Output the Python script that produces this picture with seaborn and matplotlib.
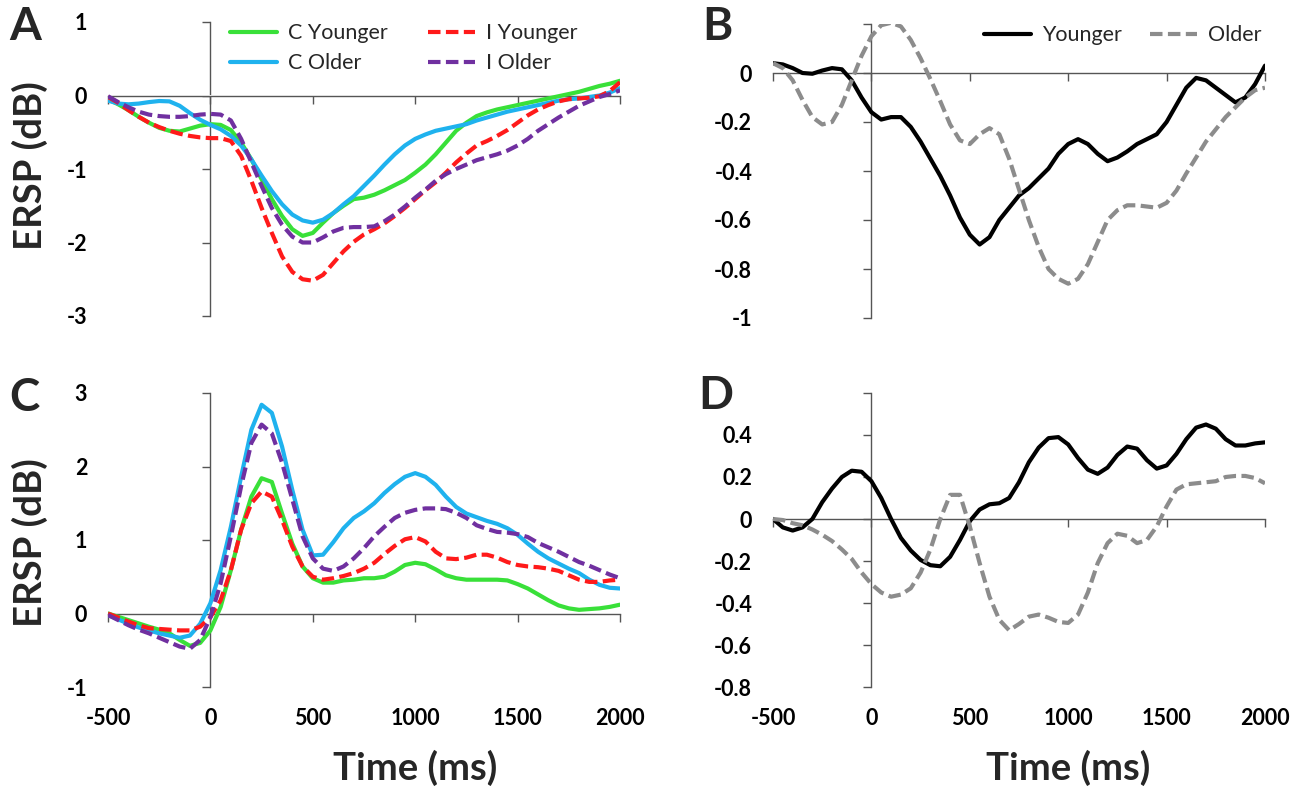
import matplotlib
matplotlib.use("Agg")
import matplotlib.pyplot as plt
import seaborn as sns

# ---------------- data ----------------
time_ms = list(range(-500, 2001, 50))
x_ticks = [-500, 0, 500, 1000, 1500, 2000]
x_tick_labels = ["-500", "0", "500", "1000", "1500", "2000"]

# Panel A
a_c_younger = [-0.05, -0.12, -0.2, -0.29, -0.37, -0.44, -0.48, -0.49, -0.45, -0.41, -0.39, -0.4, -0.47,
               -0.64, -0.87, -1.14, -1.41, -1.64, -1.82, -1.91, -1.87, -1.73, -1.6, -1.5, -1.41, -1.39,
               -1.35, -1.29, -1.22, -1.15, -1.05, -0.94, -0.8, -0.64, -0.48, -0.37, -0.28, -0.23, -0.19,
               -0.16, -0.13, -0.1, -0.07, -0.04, -0.01, 0.02, 0.05, 0.09, 0.13, 0.16, 0.2]
a_c_older = [-0.07, -0.11, -0.12, -0.11, -0.09, -0.075, -0.08, -0.14, -0.24, -0.33, -0.4, -0.46, -0.55,
             -0.68, -0.87, -1.09, -1.3, -1.48, -1.62, -1.7, -1.73, -1.69, -1.6, -1.48, -1.37, -1.23,
             -1.09, -0.94, -0.8, -0.68, -0.59, -0.53, -0.48, -0.45, -0.42, -0.39, -0.34, -0.3, -0.26,
             -0.22, -0.19, -0.16, -0.13, -0.1, -0.07, -0.05, -0.04, -0.02, 0.0, 0.04, 0.1]
a_i_younger = [-0.02, -0.1, -0.2, -0.29, -0.37, -0.43, -0.48, -0.52, -0.55, -0.57, -0.58, -0.58, -0.62,
               -0.82, -1.16, -1.53, -1.87, -2.19, -2.4, -2.5, -2.52, -2.44, -2.28, -2.12, -1.99, -1.89,
               -1.82, -1.74, -1.64, -1.53, -1.41, -1.29, -1.18, -1.05, -0.91, -0.79, -0.68, -0.62, -0.55,
               -0.47, -0.37, -0.27, -0.19, -0.13, -0.08, -0.05, -0.04, -0.03, -0.01, 0.06, 0.18]
a_i_older = [-0.01, -0.09, -0.16, -0.22, -0.26, -0.28, -0.29, -0.29, -0.28, -0.26, -0.25, -0.26, -0.34,
             -0.59, -0.91, -1.23, -1.53, -1.76, -1.92, -2.0, -2.0, -1.93, -1.85, -1.8, -1.79, -1.79,
             -1.78, -1.71, -1.62, -1.51, -1.39, -1.28, -1.16, -1.07, -1.0, -0.94, -0.88, -0.84, -0.8,
             -0.75, -0.68, -0.59, -0.48, -0.39, -0.3, -0.22, -0.14, -0.08, -0.02, 0.02, 0.07]

# Panel C
c_c_younger = [0.0, -0.045, -0.09, -0.135, -0.18, -0.22, -0.27, -0.36, -0.44, -0.4, -0.23, 0.09, 0.59,
               1.14, 1.59, 1.84, 1.79, 1.36, 0.95, 0.64, 0.48, 0.42, 0.42, 0.45, 0.46, 0.48,
               0.48, 0.5, 0.57, 0.66, 0.69, 0.67, 0.6, 0.52, 0.48, 0.46, 0.46, 0.46, 0.46,
               0.45, 0.4, 0.34, 0.26, 0.18, 0.11, 0.07, 0.05, 0.06, 0.07, 0.09, 0.12]
c_c_older = [-0.02, -0.08, -0.14, -0.19, -0.23, -0.27, -0.3, -0.33, -0.3, -0.14, 0.14, 0.59, 1.18,
             1.86, 2.5, 2.84, 2.73, 2.27, 1.68, 1.14, 0.79, 0.8, 0.97, 1.16, 1.3, 1.39,
             1.5, 1.64, 1.76, 1.86, 1.91, 1.86, 1.75, 1.59, 1.45, 1.36, 1.31, 1.26, 1.22,
             1.16, 1.07, 0.95, 0.84, 0.75, 0.68, 0.61, 0.55, 0.46, 0.39, 0.35, 0.34]
c_i_younger = [0.0, -0.055, -0.11, -0.16, -0.2, -0.21, -0.22, -0.23, -0.23, -0.18, -0.05, 0.18, 0.59,
               1.14, 1.5, 1.66, 1.59, 1.27, 0.91, 0.64, 0.5, 0.46, 0.48, 0.51, 0.55, 0.61,
               0.69, 0.81, 0.92, 1.01, 1.04, 0.98, 0.84, 0.75, 0.74, 0.76, 0.8, 0.8, 0.76,
               0.7, 0.66, 0.64, 0.63, 0.61, 0.58, 0.52, 0.46, 0.43, 0.43, 0.45, 0.46]
c_i_older = [-0.02, -0.09, -0.16, -0.22, -0.27, -0.33, -0.39, -0.45, -0.48, -0.36, -0.05, 0.41, 1.05,
             1.73, 2.32, 2.57, 2.45, 2.05, 1.55, 1.05, 0.75, 0.61, 0.58, 0.64, 0.75, 0.89,
             1.05, 1.18, 1.3, 1.37, 1.41, 1.43, 1.43, 1.42, 1.37, 1.3, 1.2, 1.15, 1.11,
             1.1, 1.08, 1.04, 0.96, 0.9, 0.84, 0.77, 0.7, 0.65, 0.59, 0.53, 0.48]

# Panel B
b_younger = [0.04, 0.035, 0.02, 0.0, -0.003, 0.01, 0.02, 0.015, -0.03, -0.1, -0.16, -0.19, -0.18,
             -0.18, -0.22, -0.28, -0.35, -0.42, -0.5, -0.59, -0.66, -0.7, -0.67, -0.6, -0.55, -0.5,
             -0.47, -0.43, -0.39, -0.33, -0.29, -0.27, -0.29, -0.33, -0.36, -0.345, -0.32, -0.29, -0.27,
             -0.25, -0.2, -0.13, -0.06, -0.02, -0.03, -0.06, -0.09, -0.12, -0.1, -0.045, 0.03]
b_older = [0.04, 0.02, -0.03, -0.11, -0.18, -0.21, -0.2, -0.13, -0.03, 0.07, 0.15, 0.195, 0.205,
           0.19, 0.135, 0.06, -0.025, -0.115, -0.21, -0.275, -0.29, -0.25, -0.225, -0.25, -0.35, -0.475,
           -0.6, -0.71, -0.8, -0.84, -0.86, -0.84, -0.78, -0.69, -0.6, -0.56, -0.54, -0.54, -0.545,
           -0.55, -0.53, -0.48, -0.41, -0.345, -0.28, -0.23, -0.18, -0.14, -0.1, -0.07, -0.06]

# Panel D
d_younger = [0.0, -0.04, -0.055, -0.04, 0.0, 0.08, 0.145, 0.2, 0.23, 0.225, 0.18, 0.1, 0.0,
             -0.09, -0.15, -0.195, -0.22, -0.225, -0.18, -0.1, -0.01, 0.045, 0.07, 0.075, 0.1, 0.175,
             0.27, 0.34, 0.385, 0.39, 0.355, 0.29, 0.235, 0.215, 0.245, 0.305, 0.345, 0.335, 0.28,
             0.24, 0.255, 0.31, 0.38, 0.435, 0.45, 0.43, 0.38, 0.35, 0.35, 0.36, 0.365]
d_older = [0.0, -0.005, -0.02, -0.03, -0.05, -0.075, -0.105, -0.145, -0.19, -0.255, -0.31, -0.35, -0.37,
           -0.36, -0.33, -0.255, -0.145, 0.0, 0.115, 0.115, -0.035, -0.21, -0.37, -0.48, -0.53, -0.5,
           -0.465, -0.455, -0.47, -0.49, -0.495, -0.455, -0.35, -0.21, -0.115, -0.07, -0.08, -0.115, -0.1,
           -0.035, 0.06, 0.14, 0.165, 0.17, 0.175, 0.18, 0.2, 0.205, 0.205, 0.195, 0.17]

labels_4 = ["C Younger", "C Older", "I Younger", "I Older"]
labels_2 = ["Younger", "Older"]

a_yticks = [-3, -2, -1, 0, 1]
a_ylabels = ["-3", "-2", "-1", "0", "1"]
c_yticks = [-1, 0, 1, 2, 3]
c_ylabels = ["-1", "0", "1", "2", "3"]
b_yticks = [-1, -0.8, -0.6, -0.4, -0.2, 0, 0.2]
b_ylabels = ["-1", "-0.8", "-0.6", "-0.4", "-0.2", "0", ""]
d_yticks = [-0.8, -0.6, -0.4, -0.2, 0, 0.2, 0.4, 0.6]
d_ylabels = ["-0.8", "-0.6", "-0.4", "-0.2", "0", "0.2", "0.4", ""]

# ---------------- style ----------------
sns.set_theme(style="white")
plt.rcParams["font.family"] = ["Lato", "DejaVu Sans"]
plt.rcParams["axes.unicode_minus"] = False

GREEN = "#39e039"
BLUE = "#1fb2ee"
RED = "#ff1a1a"
PURPLE = "#7030a0"
BLACK = "#000000"
GRAY = "#8c8c8c"
AXIS = "#555555"
DASH = (0, (3, 1.3))
LW = 3.0
TICK_FS = 15.5

W, H = 1305, 789
fig = plt.figure(figsize=(W / 100, H / 100), dpi=100)


def px_axes(l, t, r, b):
    return fig.add_axes([l / W, 1 - b / H, (r - l) / W, (b - t) / H])


axA = px_axes(108, 22, 620, 316)
axB = px_axes(773, 24, 1265, 318)
axC = px_axes(108, 393, 620, 687)
axD = px_axes(773, 393, 1265, 687)


def style(ax, ylo, yhi, yticks, ylabels, show_x):
    ax.set_xlim(-500, 2000)
    ax.set_ylim(ylo, yhi)
    for s in ax.spines.values():
        s.set_visible(False)
    ax.set_yticks(yticks, labels=ylabels)
    ax.set_xticks(x_ticks, labels=x_tick_labels if show_x else [""] * len(x_ticks))
    ax.tick_params(axis="y", length=0, pad=15, labelsize=TICK_FS, colors="black")
    ax.tick_params(axis="x", length=0, pad=15, labelsize=TICK_FS, colors="black")
    for lab in ax.get_xticklabels() + ax.get_yticklabels():
        lab.set_fontweight("bold")
    ax.grid(False)
    sy = ax.secondary_yaxis(500 / 2500)
    sy.set_alignment("left")
    sy.set_yticks(yticks, labels=[""] * len(yticks))
    sy.tick_params(length=6, width=1, color=AXIS, direction="out")
    sy.spines["left"].set_color(AXIS)
    sy.spines["left"].set_linewidth(1)
    sx = ax.secondary_xaxis((0 - ylo) / (yhi - ylo))
    sx.set_alignment("bottom")
    sx.set_xticks(x_ticks, labels=[""] * len(x_ticks))
    sx.tick_params(length=6, width=1, color=AXIS, direction="out")
    sx.spines["bottom"].set_color(AXIS)
    sx.spines["bottom"].set_linewidth(1)


def draw(ax, y, color, label, dashed):
    sns.lineplot(x=time_ms, y=y, ax=ax, color=color, linewidth=LW, label=label,
                 estimator=None, sort=False, legend=False,
                 linestyle=DASH if dashed else "-")
    ln = ax.lines[-1]
    ln.set_solid_capstyle("round")
    ln.set_solid_joinstyle("round")
    ln.set_dash_joinstyle("round")
    return ln


# Panel A
hA = [draw(axA, a_c_younger, GREEN, labels_4[0], False),
      draw(axA, a_c_older, BLUE, labels_4[1], False),
      draw(axA, a_i_younger, RED, labels_4[2], True),
      draw(axA, a_i_older, PURPLE, labels_4[3], True)]
style(axA, -3, 1, a_yticks, a_ylabels, False)
axA.legend(hA, labels_4, ncol=2, frameon=False, loc="upper left",
           bbox_to_anchor=(0.238, 0.995), borderpad=0, borderaxespad=0,
           handlelength=2.2, handletextpad=0.5, columnspacing=1.85,
           labelspacing=0.45, prop={"size": 15.5})

# Panel C
draw(axC, c_c_younger, GREEN, labels_4[0], False)
draw(axC, c_c_older, BLUE, labels_4[1], False)
draw(axC, c_i_younger, RED, labels_4[2], True)
draw(axC, c_i_older, PURPLE, labels_4[3], True)
style(axC, -1, 3, c_yticks, c_ylabels, True)

# Panel B
hB = [draw(axB, b_younger, BLACK, labels_2[0], False),
      draw(axB, b_older, GRAY, labels_2[1], True)]
style(axB, -1, 0.2, b_yticks, b_ylabels, False)
axB.legend(hB, labels_2, ncol=2, frameon=False, loc="upper left",
           bbox_to_anchor=(0.428, 0.996), borderpad=0, borderaxespad=0,
           handlelength=2.2, handletextpad=0.5, columnspacing=1.3,
           prop={"size": 15.5})

# Panel D
draw(axD, d_younger, BLACK, labels_2[0], False)
draw(axD, d_older, GRAY, labels_2[1], True)
style(axD, -0.8, 0.6, d_yticks, d_ylabels, True)

# axis labels
for ax, yc in ((axA, 0.51), (axC, 0.49)):
    ax.set_ylabel("ERSP (dB)", fontsize=27.5, fontweight="bold")
    ax.yaxis.set_label_coords(-0.152, yc)
    ax.yaxis.label.set_va("center")
for ax in (axC, axD):
    ax.set_xlabel("Time (ms)", fontsize=27.5, fontweight="bold")
    ax.xaxis.set_label_coords(0.6, -0.275)
    ax.xaxis.label.set_va("center")

# panel letters
for letter, x, y in (("A", 25, 27), ("B", 717, 27), ("C", 24, 398), ("D", 716, 396)):
    fig.text(x / W, 1 - y / H, letter, fontsize=33, fontweight="bold",
             ha="center", va="center")

fig.savefig("out.png", dpi=100)
